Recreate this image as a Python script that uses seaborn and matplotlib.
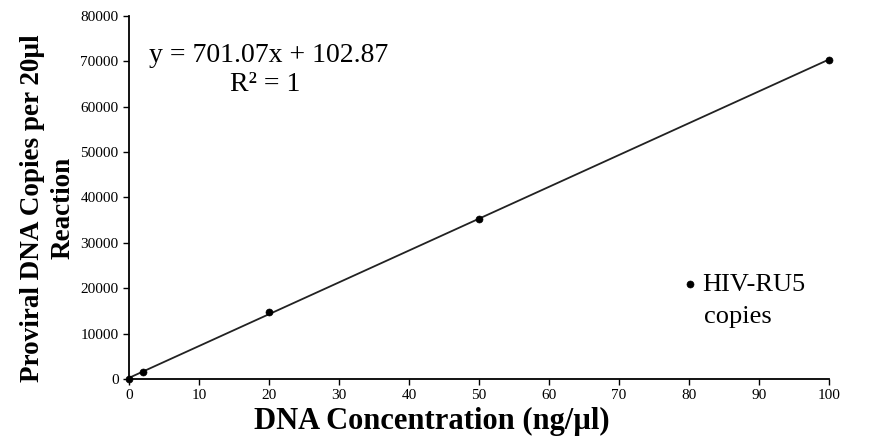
import seaborn as sns
import matplotlib.pyplot as plt
import numpy as np

# DNA concentration (ng/ul) and measured copies
conc = np.array([0, 2, 20, 50, 100])
copies = np.array([100, 1540, 14700, 35200, 70400])

x_ticks = list(range(0, 101, 10))
y_ticks = list(range(0, 80001, 10000))

sns.set_style("ticks")
plt.rcParams['font.family'] = ['Liberation Serif', 'DejaVu Serif']
plt.rcParams.update({'text.color': 'black', 'axes.labelcolor': 'black',
                     'xtick.color': 'black', 'ytick.color': 'black'})

fig = plt.figure(figsize=(8.73, 4.46), dpi=100)
ax = fig.add_axes([0.1478, 0.1502, 0.8018, 0.814])

sns.regplot(x=conc, y=copies, ax=ax, ci=None, scatter=False,
            line_kws=dict(color='#222222', lw=1.3))
sns.scatterplot(x=conc, y=copies, ax=ax, color='black', s=26, zorder=3,
                edgecolor='black', label='HIV-RU5', clip_on=False)

ax.set_xlim(0, 100)
ax.set_ylim(0, 80000)
ax.set_xticks(x_ticks)
ax.set_yticks(y_ticks)
ax.tick_params(labelsize=11, length=4, width=1, direction='out', color='black')
for s in ['left', 'bottom']:
    ax.spines[s].set_color('black')
    ax.spines[s].set_linewidth(1.3)
sns.despine(ax=ax)

ax.set_xlabel("DNA Concentration (ng/µl)", fontsize=22, fontweight='bold')
ax.xaxis.set_label_coords(0.433, -0.077)
ax.set_ylabel("Proviral DNA Copies per 20µl\nReaction", fontsize=19.5, fontweight='bold',
              linespacing=1.3)
ax.yaxis.set_label_coords(-0.076, 0.47)

ax.text(0.2, 0.89, "y = 701.07x + 102.87", transform=ax.transAxes,
        ha='center', va='center', fontsize=20)
ax.text(0.194, 0.81, "R² = 1", transform=ax.transAxes,
        ha='center', va='center', fontsize=20)

leg = ax.legend(loc='center left', bbox_to_anchor=(0.79, 0.26), frameon=False,
                fontsize=19, handletextpad=0.15, markerscale=1.0,
                borderpad=0, handlelength=0.6, borderaxespad=0)
ax.text(0.821, 0.171, "copies", transform=ax.transAxes,
        ha='left', va='center', fontsize=19)

fig.savefig("out.png", dpi=100)
